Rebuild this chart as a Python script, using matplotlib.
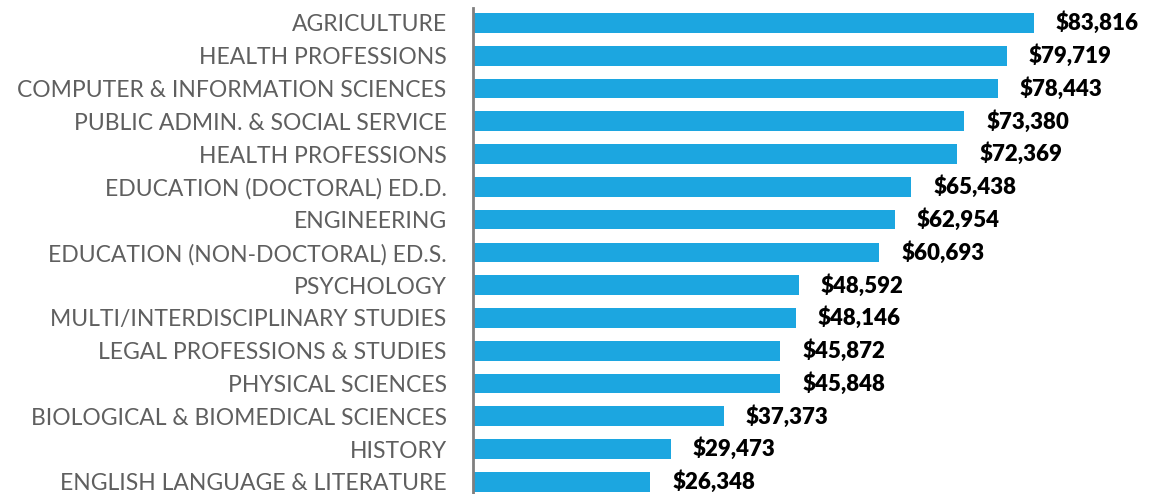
import matplotlib
matplotlib.use('Agg')
import matplotlib.pyplot as plt
import numpy as np

# Graduate fields and their values, top to bottom as in the chart
fields = [
    "AGRICULTURE",
    "HEALTH PROFESSIONS",
    "COMPUTER & INFORMATION SCIENCES",
    "PUBLIC ADMIN. & SOCIAL SERVICE",
    "HEALTH PROFESSIONS",
    "EDUCATION (DOCTORAL) ED.D.",
    "ENGINEERING",
    "EDUCATION (NON-DOCTORAL) ED.S.",
    "PSYCHOLOGY",
    "MULTI/INTERDISCIPLINARY STUDIES",
    "LEGAL PROFESSIONS & STUDIES",
    "PHYSICAL SCIENCES",
    "BIOLOGICAL & BIOMEDICAL SCIENCES",
    "HISTORY",
    "ENGLISH LANGUAGE & LITERATURE",
]
amounts = [83816, 79719, 78443, 73380, 72369, 65438, 62954, 60693,
           48592, 48146, 45872, 45848, 37373, 29473, 26348]

plt.rcParams['font.family'] = ['Lato', 'DejaVu Sans']

fig = plt.figure(figsize=(11.51, 4.94), dpi=100)
ax = fig.add_axes([0.411, 0.0, 0.589, 0.984])

y = np.arange(len(fields))
ax.barh(y, amounts, height=0.6, color='#1CA6E0', zorder=2)

ax.set_ylim(len(fields) - 1 + 0.37, -0.46)
ax.set_xlim(-150, 101350)

ax.set_yticks(y)
ax.set_yticklabels(fields)
ax.tick_params(axis='y', length=0, pad=19, labelsize=16.5, labelcolor='#5f5f5f')
ax.set_xticks([])

for spine in ['top', 'right', 'bottom']:
    ax.spines[spine].set_visible(False)
ax.spines['left'].set_color('#7f7f7f')
ax.spines['left'].set_linewidth(2)

for yi, v in zip(y, amounts):
    ax.annotate(f"${v:,}", xy=(v, yi), xytext=(22, 0), textcoords='offset pixels',
                va='center', ha='left', fontsize=16, fontweight='heavy',
                color='black', annotation_clip=False)

fig.savefig('out.png', dpi=100)
